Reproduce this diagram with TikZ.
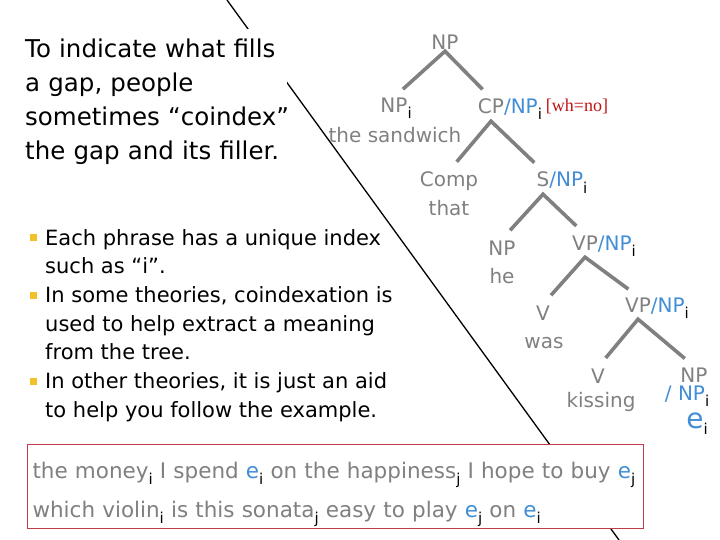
\documentclass[tikz,border=0pt]{standalone}
\usepackage{fontspec}
\setmainfont{DejaVu Sans}
\newfontfamily\whfont{Liberation Serif}
\usepackage{xcolor}
\usepackage{tikz}
\usetikzlibrary{positioning}
\definecolor{treegray}{RGB}{128,128,128}
\definecolor{slashblue}{RGB}{66,142,214}
\definecolor{whred}{RGB}{190,20,20}
\definecolor{boxred}{RGB}{190,60,75}
\definecolor{bulletgold}{RGB}{242,192,40}
\newcommand{\idx}[1]{\raisebox{-6pt}{\fontsize{15}{15}\selectfont\textcolor{black}{#1}}}
\newcommand{\gap}[1]{\textcolor{slashblue}{#1}}
\newcommand{\sqbullet}{\textcolor{bulletgold}{\rule[4pt]{7pt}{7pt}}}
\tikzstyle{cat} = [text=treegray, anchor=base, inner sep=1pt,
                   font=\fontsize{20}{24}\selectfont]
\tikzstyle{branch} = [draw=treegray, line width=3.6pt,
                      shorten <=12pt, shorten >=12pt]
\tikzstyle{intro} = [anchor=north west, fill=white, inner xsep=0pt, inner ysep=10pt,
                     text width=262pt, align=left, font=\fontsize{24.5}{34}\selectfont]
\tikzstyle{notes} = [anchor=north west, inner sep=0pt, align=left,
                     font=\fontsize{21}{28.7}\selectfont]
\tikzstyle{examples} = [anchor=north west, draw=boxred, fill=white, line width=1pt,
                        inner xsep=5pt, inner ysep=0pt, text width=606pt, align=left,
                        text=treegray, font=\fontsize{21.5}{39}\selectfont]

\begin{document}
\begin{tikzpicture}[x=1pt, y=-1pt]
  \useasboundingbox (0,0) rectangle (720,540);
  % divider, partly hidden behind the text boxes
  \coordinate (top) at (227,0);
  \coordinate (bot) at (619,540);
  \draw [line width=1.3pt] (top) -- (bot);

  \node [intro] (intro) at (25,29) {To indicate what fills\\ a gap, people\\
    \mbox{sometimes ``coindex''}\\ the gap and its filler.};
  \node [notes] (notes) at (45,229) {%
    \llap{\sqbullet\hspace{8pt}}Each phrase has a unique index\\ such as ``i''.\\
    \llap{\sqbullet\hspace{8pt}}In some theories, coindexation is\\
    used to help extract a meaning\\ from the tree.\\
    \llap{\sqbullet\hspace{8pt}}In other theories, it is just an aid\\
    to help you follow the example.};

  % the tree
  \node [cat] (np)   at (445,50)  {NP};
  \node [cat] (npi)  at (394,113) {NP\rlap{\idx{i}}};
  \node [cat] (sw)   at (395,143) {the sandwich};
  \node [cat] (cp)   at (491,114) {CP\rlap{\gap{/NP}\idx{i}\hspace{4pt}%
    \raisebox{2pt}{\whfont\fontsize{18}{18}\selectfont\textcolor{whred}{[wh=no]}}}};
  \node [cat] (comp) at (449,187) {Comp};
  \node [cat] (that) at (449,215) {that};
  \node [cat] (s)    at (543,187) {S\rlap{\gap{/NP}\idx{i}}};
  \node [cat] (nphe) at (502,255) {NP};
  \node [cat] (he)   at (502,283) {he};
  \node [cat] (vpa)  at (585,250) {VP\rlap{\gap{/NP}\idx{i}}};
  \node [cat] (va)   at (543,320) {V};
  \node [cat] (was)  at (544,348) {was};
  \node [cat] (vpb)  at (638,312) {VP\rlap{\gap{/NP}\idx{i}}};
  \node [cat] (vb)   at (598,383) {V};
  \node [cat] (kiss) at (601,407) {kissing};
  \node [cat] (npe)  at (694,382) {NP};
  \node [cat] (slash) at (685,400) {\gap{/ NP}\rlap{\idx{i}}};
  \node [cat, font=\fontsize{28}{30}\selectfont] (trace) at (695,428) {\gap{e}\rlap{\idx{i}}};

  \draw [branch] (npi.north) -- (np.south) -- (cp.north);
  \draw [branch] (comp.north) -- (cp.south) -- (s.north);
  \draw [branch] (nphe.north) -- (s.south) -- (vpa.north);
  \draw [branch] (va.north) -- (vpa.south) -- (vpb.north);
  \draw [branch] (vb.north) -- (vpb.south) -- (npe.north);

  \node [examples] (ex) at (27,444) {\rule{0pt}{34pt}the money\idx{i} I spend
    \gap{e}\idx{i} on the happiness\idx{j} I hope to buy \gap{e}\idx{j}\\
    which violin\idx{i} is this sonata\idx{j} easy to play \gap{e}\idx{j}
    on \gap{e}\idx{i}\rule[-11pt]{0pt}{11pt}};
\end{tikzpicture}
\end{document}
